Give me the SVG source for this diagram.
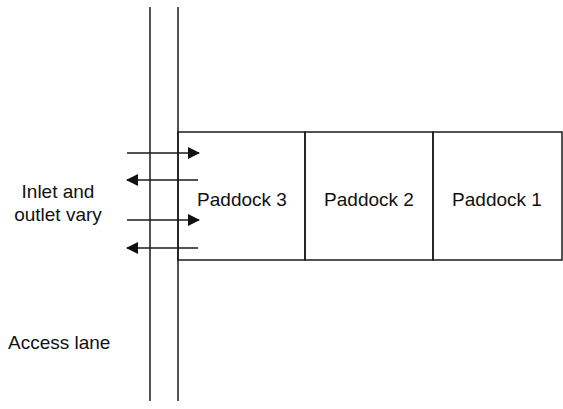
<svg xmlns="http://www.w3.org/2000/svg" width="563" height="409" viewBox="0 0 563 409">
<style>
.ln{stroke:#1a1a1a;stroke-width:1.5;fill:none}
.t{font-family:"Liberation Sans",Arial,sans-serif;font-size:19px;fill:#111}
</style>
<defs>
<marker id="ah" markerWidth="12" markerHeight="12" viewBox="0 0 12 12" refX="11" refY="6" orient="auto" markerUnits="userSpaceOnUse">
<path d="M0,0 L12,6 L0,12 Z" fill="#111"/>
</marker>
</defs>
<rect width="563" height="409" fill="#fff"/>
<g id="lane">
<line class="ln" x1="150" y1="7" x2="150" y2="401"/>
<line class="ln" x1="178" y1="7" x2="178" y2="401"/>
</g>
<g id="paddock3">
<rect class="ln" x="178" y="132" width="127" height="128"/>
<text class="t" x="242" y="206" text-anchor="middle">Paddock 3</text>
</g>
<g id="paddock2">
<rect class="ln" x="305" y="132" width="128" height="128"/>
<text class="t" x="369" y="206" text-anchor="middle">Paddock 2</text>
</g>
<g id="paddock1">
<rect class="ln" x="433" y="132" width="129" height="128"/>
<text class="t" x="497" y="206" text-anchor="middle">Paddock 1</text>
</g>
<g id="connectors">
<line class="ln" x1="127" y1="153" x2="199" y2="153" marker-end="url(#ah)"/>
<line class="ln" x1="198" y1="180" x2="127" y2="180" marker-end="url(#ah)"/>
<line class="ln" x1="127" y1="220" x2="199" y2="220" marker-end="url(#ah)"/>
<line class="ln" x1="198" y1="248" x2="127" y2="248" marker-end="url(#ah)"/>
</g>
<g id="labels">
<text class="t" x="58" y="198" text-anchor="middle">Inlet and</text>
<text class="t" x="58" y="221" text-anchor="middle">outlet vary</text>
<text class="t" x="8" y="349">Access lane</text>
</g>
</svg>
